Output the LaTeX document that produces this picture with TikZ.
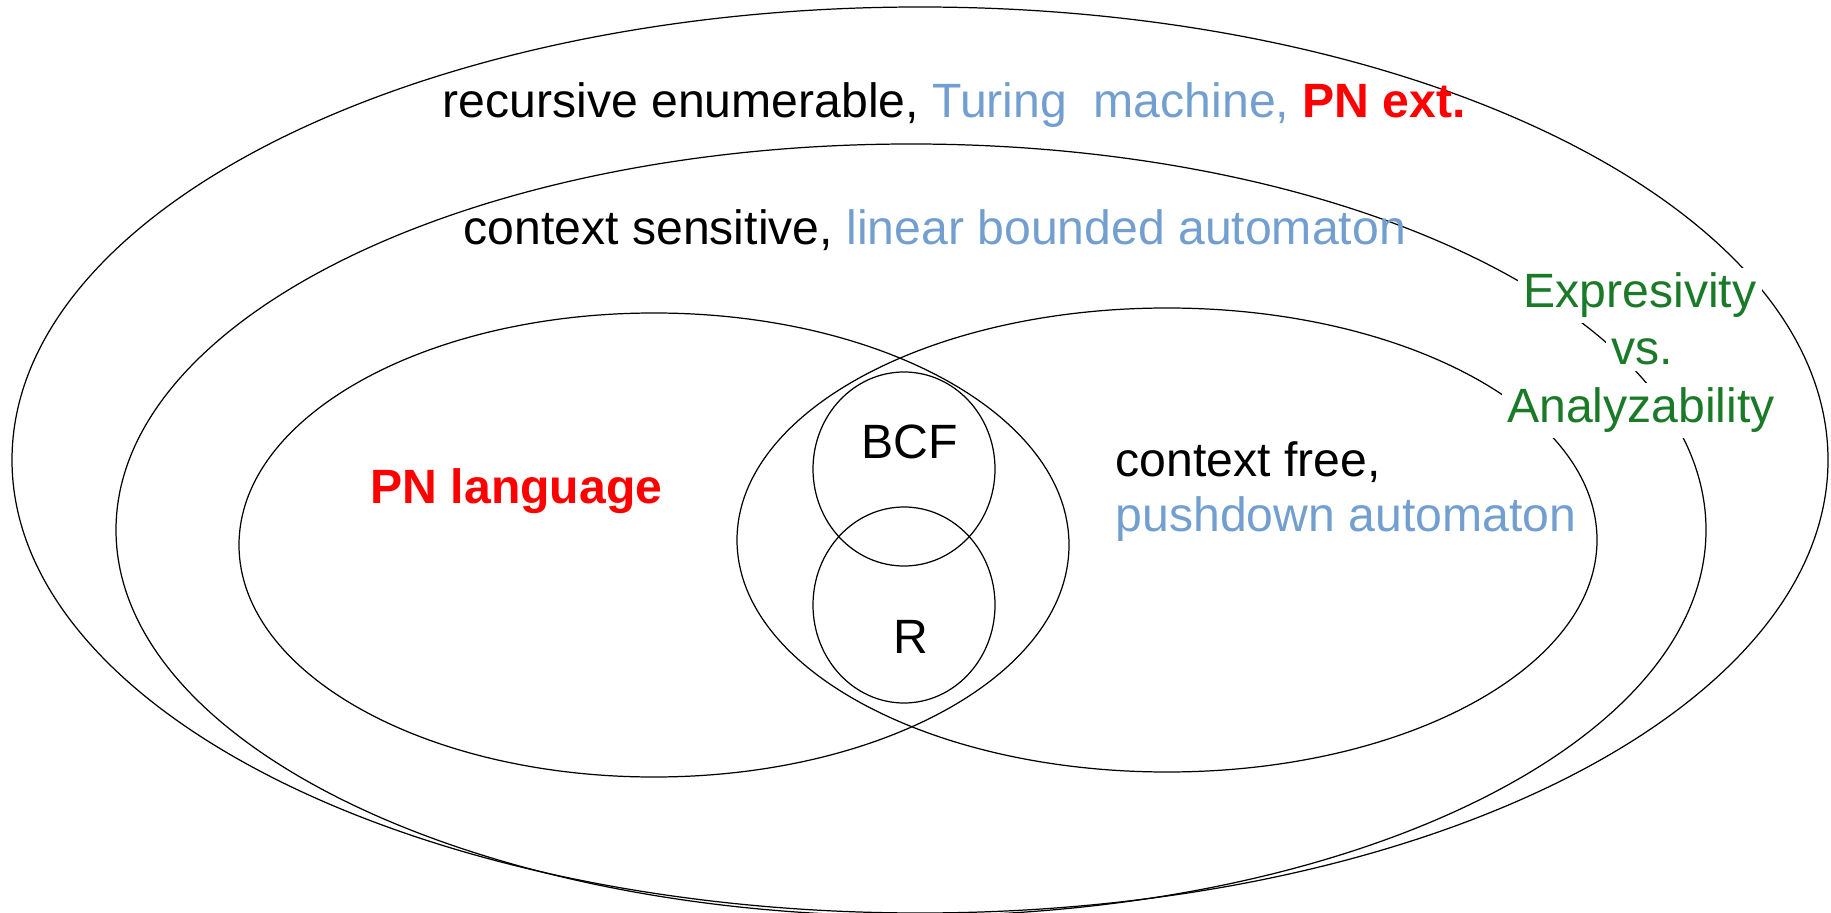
\documentclass[tikz,border=0pt]{standalone}
\usepackage{fontspec}
\setmainfont{Liberation Sans}
\usetikzlibrary{positioning}
\definecolor{mach}{HTML}{729FCF}
\definecolor{pnred}{HTML}{FF0000}
\definecolor{expg}{HTML}{1A7A28}
\tikzset{
  setline/.style={line width=0.35pt, black},
  lab/.style={font=\fontsize{13.7pt}{16.4pt}\selectfont, inner sep=0pt},
  glab/.style={lab, text=expg, fill=white, inner sep=1.5pt, anchor=base},
}

\begin{document}
\begin{tikzpicture}[x=1cm,y=1cm]
\useasboundingbox (0,0) rectangle (18.31,9.12);

% ===================== the nested classes ========================
\draw[setline] (9.20,4.52) ellipse (9.08 and 4.53);   % recursive enumerable
\draw[setline] (9.11,3.82) ellipse (7.95 and 3.86);   % context sensitive
\draw[setline] (6.54,3.67) ellipse (4.15 and 2.32);   % PN language
\draw[setline] (11.67,3.72) ellipse (4.30 and 2.32);  % context free
\draw[setline] (9.04,4.43) ellipse (0.91 and 0.97);   % BCF
\draw[setline] (9.04,3.07) ellipse (0.91 and 0.98);   % R

% ===================== labels ========================
\node[lab, anchor=base west] (re) at (4.42,7.94)
  {recursive enumerable, \textcolor{mach}{Turing\ \ machine,} \textcolor{pnred}{\bfseries PN ext.}};
\node[lab, anchor=base west] (cs) at (4.63,6.67)
  {context sensitive, \textcolor{mach}{linear bounded automaton}};
\node[lab, anchor=base west, text=pnred, font=\fontsize{13.7pt}{16.4pt}\selectfont\bfseries] (pn) at (3.70,4.09)
  {PN language};
\node[lab, anchor=base west] (cf) at (11.15,4.35) {context free,};
\node[lab, anchor=base west, text=mach] (pda) at (11.15,3.80) {pushdown automaton};
\node[lab, anchor=base] (bcf) at (9.10,4.54) {BCF};
\node[lab, anchor=base] (r) at (9.11,2.59) {R};

% trade-off note over the outer rings
\node[glab] (expr) at (16.40,6.04) {Expresivity};
\node[glab] (vs) at (16.42,5.47) {vs.};
\node[glab] (ana) at (16.41,4.89) {Analyzability};

\end{tikzpicture}
\end{document}
